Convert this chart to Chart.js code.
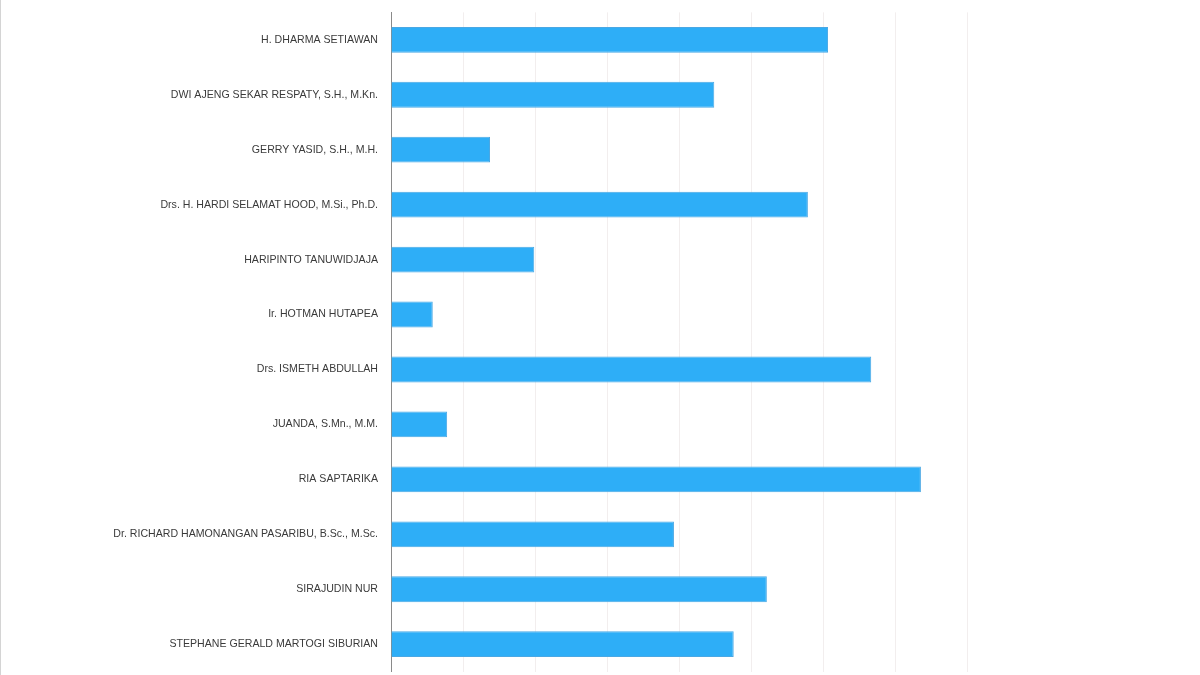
<!DOCTYPE html>
<html>
<head>
<meta charset="utf-8">
<script src="https://cdn.jsdelivr.net/npm/chart.js@4"></script>
<style>
html,body{margin:0;padding:0;background:#fff;overflow:hidden;}
#wrap{position:relative;width:1200px;height:675px;overflow:hidden;}
#edge{position:absolute;left:0;top:0;width:1px;height:675px;background:#d4d4d4;}
canvas{display:block;margin-top:-7px;}
</style>
</head>
<body>
<div id="wrap">
<canvas id="c" width="1200" height="698"></canvas>
<div id="edge"></div>
</div>
<script>
const categories = [
  "H. DHARMA SETIAWAN",
  "DWI AJENG SEKAR RESPATY, S.H., M.Kn.",
  "GERRY YASID, S.H., M.H.",
  "Drs. H. HARDI SELAMAT HOOD, M.Si., Ph.D.",
  "HARIPINTO TANUWIDJAJA",
  "Ir. HOTMAN HUTAPEA",
  "Drs. ISMETH ABDULLAH",
  "JUANDA, S.Mn., M.M.",
  "RIA SAPTARIKA",
  "Dr. RICHARD HAMONANGAN PASARIBU, B.Sc., M.Sc.",
  "SIRAJUDIN NUR",
  "STEPHANE GERALD MARTOGI SIBURIAN"
];
const votes = [60700, 44900, 13750, 57900, 19900, 5800, 66700, 7800, 73600, 39300, 52200, 47600];
const axisMax = 80000;
const axisStep = 10000;

new Chart(document.getElementById('c'), {
  type: 'bar',
  data: {
    labels: categories,
    datasets: [{
      label: 'Suara',
      data: votes,
      backgroundColor: '#2eaef7',
      borderColor: '#4aa8e4',
      borderWidth: 1,
      categoryPercentage: 1,
      barPercentage: 0.47
    }]
  },
  options: {
    indexAxis: 'y',
    responsive: false,
    animation: false,
    layout: { padding: { left: 0, right: 233, top: 2, bottom: 2 } },
    plugins: { legend: { display: false }, tooltip: { enabled: false } },
    scales: {
      x: {
        min: 0, max: axisMax,
        ticks: { display: false, stepSize: axisStep },
        grid: { color: '#f2eeee', drawTicks: false },
        border: { display: false },
        afterFit: s => { s.height = 0; }
      },
      y: {
        ticks: { color: '#3a3a3a', font: { family: 'Liberation Sans', size: 10.6 }, padding: 13, autoSkip: false },
        grid: { display: false, drawTicks: false },
        border: { display: true, color: '#8a8a8a', width: 1 },
        afterFit: s => { s.width = 391; }
      }
    }
  }
});
</script>
</body>
</html>
